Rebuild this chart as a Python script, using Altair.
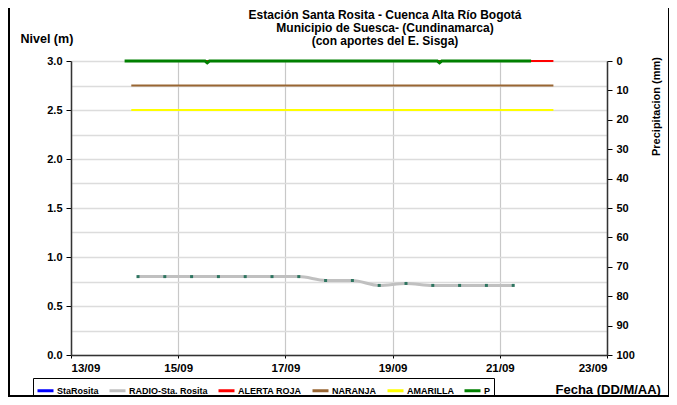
import altair as alt
import pandas as pd

# ---- data ----
series_names = ["StaRosita", "RADIO-Sta. Rosita", "ALERTA ROJA", "NARANJA", "AMARILLA", "P"]
series_colors = ["#0000ff", "#c0c0c0", "#ff0000", "#996633", "#ffff00", "#008000"]

radio_t = ["2009-09-14T06:00", "2009-09-14T18:00", "2009-09-15T06:00", "2009-09-15T18:00",
           "2009-09-16T06:00", "2009-09-16T18:00", "2009-09-17T06:00", "2009-09-17T18:00",
           "2009-09-18T06:00", "2009-09-18T18:00", "2009-09-19T06:00", "2009-09-19T18:00",
           "2009-09-20T06:00", "2009-09-20T18:00", "2009-09-21T06:00"]
radio_v = [0.80, 0.80, 0.80, 0.80, 0.80, 0.80, 0.80, 0.76, 0.76, 0.71, 0.73, 0.71, 0.71, 0.71, 0.71]

alert_names = ["ALERTA ROJA", "NARANJA", "AMARILLA"]
alert_levels = [3.0, 2.75, 2.5]
alert_start = "2009-09-14T03:00"
alert_end = "2009-09-22T00:00"

p_t = ["2009-09-14T00:00", "2009-09-15T12:00", "2009-09-15T13:00", "2009-09-15T14:00",
       "2009-09-19T20:00", "2009-09-19T21:00", "2009-09-19T22:00", "2009-09-21T14:00"]
p_v = [0, 0, 0.6, 0, 0, 0.6, 0, 0]

title_lines = ["Estación Santa Rosita - Cuenca Alta Río Bogotá",
               "Municipio de Suesca- (Cundinamarca)",
               "(con aportes del  E. Sisga)"]

# ---- tables ----
radio_df = pd.DataFrame({"t": radio_t, "nivel": radio_v, "serie": "RADIO-Sta. Rosita"})
alert_rows = []
for n, lv in zip(alert_names, alert_levels):
    alert_rows.append({"t": alert_start, "nivel": lv, "serie": n})
    alert_rows.append({"t": alert_end, "nivel": lv, "serie": n})
alert_df = pd.DataFrame(alert_rows)
p_df = pd.DataFrame({"t": p_t, "precip": p_v, "serie": "P"})

FONT = "Liberation Sans"

x_enc = alt.X("t:T",
              scale=alt.Scale(domain=[alt.DateTime(year=2009, month=9, date=13),
                                      alt.DateTime(year=2009, month=9, date=23)]),
              axis=alt.Axis(values=[alt.DateTime(year=2009, month=9, date=d) for d in [13, 15, 17, 19, 21, 23]],
                            format="%d/%m", labelFontSize=11.5, labelFontWeight="bold",
                            labelPadding=4, tickSize=3, tickColor="#000000",
                            domainColor="#333333", domainWidth=1.5,
                            grid=True, gridColor="#c8c8c8", gridWidth=1.2,
                            title="Fecha (DD/M/AA)", titleFontSize=13, titleFontWeight="bold",
                            titleX=484, titleY=38, titleAlign="left", titleBaseline="alphabetic"))

left_axis = alt.Axis(values=[i * 0.25 for i in range(13)],
                     labelExpr="datum.value % 0.5 === 0 ? format(datum.value, '.1f') : ''",
                     labelFontSize=11, labelFontWeight="bold", labelPadding=4,
                     tickSize=5,
                     tickColor={"condition": {"test": "datum.value % 0.5 === 0", "value": "#000000"},
                                "value": "transparent"},
                     domainColor="#333333", domainWidth=1.5,
                     grid=True, gridColor="#dcdcdc", gridWidth=1.5,
                     title="Nivel (m)", titleFontSize=12.5, titleFontWeight="bold",
                     titleAngle=0, titleX=-51, titleY=-19, titleAlign="left",
                     titleBaseline="alphabetic")

y_left = alt.Y("nivel:Q", scale=alt.Scale(domain=[0, 3]), axis=left_axis)

color_enc = alt.Color("serie:N",
                      scale=alt.Scale(domain=series_names, range=series_colors),
                      legend=alt.Legend(orient="none", legendX=-38, legendY=317,
                                        direction="horizontal", columns=6, title=None,
                                        symbolType="stroke", symbolStrokeWidth=3,
                                        symbolSize=256, labelFontSize=9,
                                        labelFontWeight="bold", labelFont=FONT,
                                        labelColor="#000000",
                                        strokeColor="#000000", padding=3,
                                        columnPadding=4, labelOffset=2, rowPadding=0))

alerts = alt.Chart(alert_df).mark_line(strokeWidth=2).encode(
    x=x_enc, y=y_left, color=color_enc, detail="serie:N")

radio_line = alt.Chart(radio_df).mark_line(strokeWidth=3, interpolate="monotone").encode(
    x=x_enc, y=y_left, color=color_enc)

radio_pts = alt.Chart(radio_df).mark_square(size=9, color="#2e7560", opacity=1).encode(
    x=x_enc, y=y_left)

left_group = alt.layer(alerts, radio_line, radio_pts)

precip = alt.Chart(p_df).mark_line(strokeWidth=3).encode(
    x=x_enc,
    y=alt.Y("precip:Q", scale=alt.Scale(domain=[0, 100], reverse=True),
            axis=alt.Axis(orient="right", values=list(range(0, 101, 10)),
                          labelFontSize=11, labelFontWeight="bold", labelPadding=4,
                          tickSize=5, tickColor="#000000",
                          domainColor="#333333", domainWidth=1.5, grid=False,
                          title="Precipitacion (mm)", titleFontSize=11,
                          titleFontWeight="bold", titleAngle=270,
                          titleX=49, titleY=45, titleAlign="center",
                          titleBaseline="middle")),
    color=color_enc)

frame = alt.Chart(alt.Data(values=[{"a": 1}])).mark_rect(
    fill="transparent", stroke="#000000", strokeWidth=2).encode(
    x=alt.value(-62), x2=alt.value(598), y=alt.value(-54), y2=alt.value(335))

chart = alt.layer(left_group, precip, frame).resolve_scale(y="independent").properties(
    width=536, height=294,
    autosize=alt.AutoSizeParams(type="none"),
    padding={"left": 63, "top": 53, "right": 62, "bottom": 42},
    title=alt.TitleParams(text=title_lines, fontSize=12, fontWeight="bold", font=FONT,
                          anchor="middle", frame="group", dx=46, dy=42, offset=0,
                          lineHeight=13, color="#000000"),
).configure(font=FONT).configure_view(stroke=None).configure_axis(
    labelFont=FONT, titleFont=FONT, labelColor="#000000", titleColor="#000000")

chart.save("out.html", embed_options={"renderer": "svg", "actions": False})
